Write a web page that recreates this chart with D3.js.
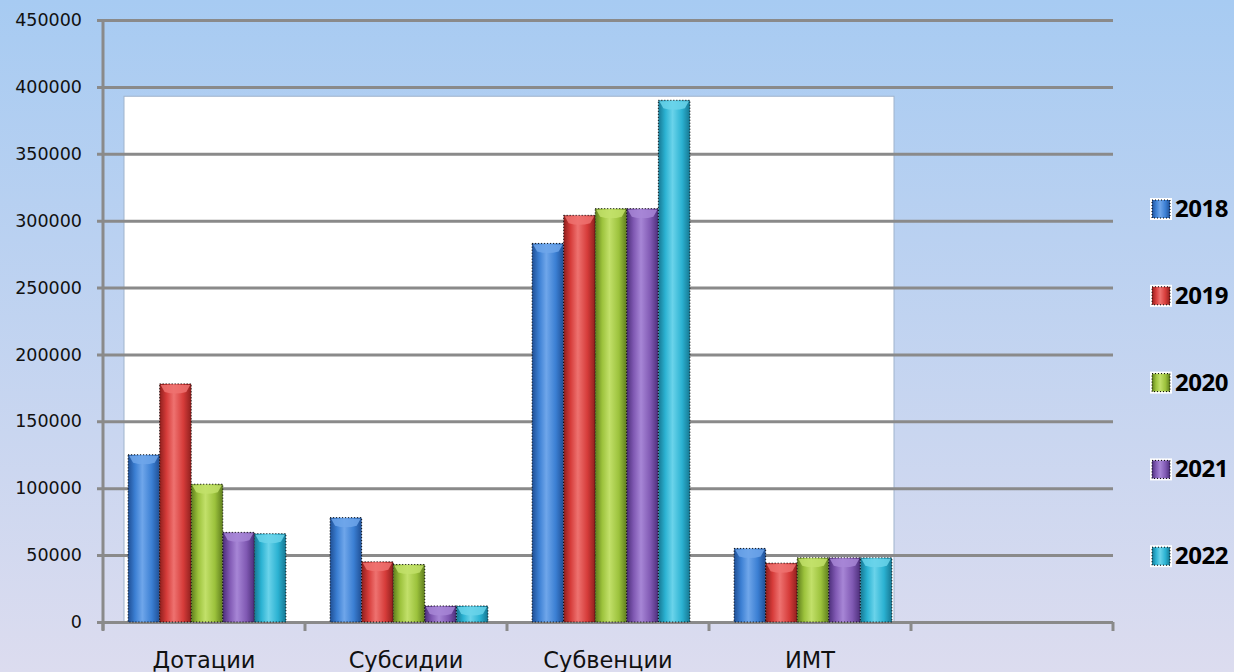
<!DOCTYPE html>
<html>
<head>
<meta charset="utf-8">
<script src="https://cdn.jsdelivr.net/npm/d3@7"></script>
<style>
  html, body { margin: 0; padding: 0; }
  body { width: 1234px; height: 672px; overflow: hidden; }
</style>
</head>
<body>
<div id="grafica"></div>
<script>
// datos
categorias = ['Дотации', 'Субсидии', 'Субвенции', 'ИМТ', '']
anios = ['2018', '2019', '2020', '2021', '2022']
v2018 = [125000, 78000, 283000, 55000]
v2019 = [178000, 45000, 304000, 44000]
v2020 = [103000, 43000, 309000, 48000]
v2021 = [67000, 12000, 309000, 48000]
v2022 = [66000, 12000, 390000, 48000]
yTicks = [0, 50000, 100000, 150000, 200000, 250000, 300000, 350000, 400000, 450000]
colores = ['#3b7fd3', '#d63c3a', '#9cc23c', '#8059b3', '#2bb2d2']
oscuros = ['#1f4f95', '#8f1f1d', '#5e7d1c', '#4c2e7a', '#167792']
claros = ['#6fa6ea', '#ee7270', '#c2e06a', '#a786d6', '#6ad3ea']

series = [v2018, v2019, v2020, v2021, v2022]

ancho_total = 1234
alto_total = 672

svg = d3.select('#grafica')
  .append('svg')
  .attr('width', ancho_total)
  .attr('height', alto_total)

defs = svg.append('defs')

fondo = defs.append('linearGradient')
  .attr('id', 'fondo')
  .attr('x1', 0).attr('y1', 0).attr('x2', 0).attr('y2', 1)
fondo.append('stop').attr('offset', '0%').attr('stop-color', '#a7cbf2')
fondo.append('stop').attr('offset', '100%').attr('stop-color', '#dcdcef')

anios.forEach((a, i) => {
  gr = defs.append('linearGradient')
    .attr('id', 'barra' + i)
    .attr('x1', 0).attr('y1', 0).attr('x2', 1).attr('y2', 0)
  gr.append('stop').attr('offset', '0%').attr('stop-color', oscuros[i])
  gr.append('stop').attr('offset', '22%').attr('stop-color', colores[i])
  gr.append('stop').attr('offset', '45%').attr('stop-color', claros[i])
  gr.append('stop').attr('offset', '75%').attr('stop-color', colores[i])
  gr.append('stop').attr('offset', '100%').attr('stop-color', oscuros[i])
})

svg.append('rect')
  .attr('width', ancho_total)
  .attr('height', alto_total)
  .attr('fill', 'url(#fondo)')

// escaladores
x = d3.scaleBand()
  .domain(categorias)
  .range([103, 1113])
  .paddingInner(0)
  .paddingOuter(0)

x1 = d3.scaleBand()
  .domain(anios)
  .range([0, x.bandwidth()])
  .paddingInner(0)
  .paddingOuter(0.7)

y = d3.scaleLinear()
  .domain([0, 450000])
  .range([622, 20])

// area blanca detras de las barras
svg.append('rect')
  .attr('x', 124)
  .attr('y', y(393000))
  .attr('width', 770)
  .attr('height', y(0) - y(393000))
  .attr('fill', '#ffffff')
  .attr('stroke', '#9fb3cc')
  .attr('stroke-width', 1)

// lineas de la cuadricula y eje Y
yAxisCall = d3.axisLeft(y)
  .tickValues(yTicks)
  .tickSize(-(1113 - 103))
  .tickPadding(21)
  .tickFormat(d3.format('d'))

yGroup = svg.append('g')
  .attr('transform', 'translate(103, 0)')
  .call(yAxisCall)

yGroup.select('.domain').remove()
yGroup.selectAll('.tick line')
  .attr('x1', -6)
  .attr('stroke', '#8a8a8a')
  .attr('stroke-width', 3)
yGroup.selectAll('.tick text')
  .attr('font-family', 'DejaVu Sans')
  .attr('font-size', '17.5px')
  .attr('fill', '#111')

svg.append('line')
  .attr('x1', 103).attr('x2', 103)
  .attr('y1', y(450000)).attr('y2', 630)
  .attr('stroke', '#8a8a8a')
  .attr('stroke-width', 3)

// eje X con marcas en los limites de cada categoria
limites = categorias.map((c) => x(c)).concat([x.range()[1]])
svg.selectAll('.marcaX')
  .data(limites)
  .enter()
  .append('line')
  .attr('x1', (d) => d).attr('x2', (d) => d)
  .attr('y1', y(0)).attr('y2', 631)
  .attr('stroke', '#8a8a8a')
  .attr('stroke-width', 3)

svg.selectAll('.etiquetaX')
  .data(categorias)
  .enter()
  .append('text')
  .attr('x', (d) => x(d) + x.bandwidth() / 2)
  .attr('y', 668)
  .attr('text-anchor', 'middle')
  .attr('font-family', 'DejaVu Sans')
  .attr('font-size', '22.5px')
  .attr('fill', '#111')
  .text((d) => d)

// barras
grupos = svg.selectAll('.grupo')
  .data(categorias.slice(0, 4))
  .enter()
  .append('g')
  .attr('transform', (d) => `translate(${x(d) + 3}, 0)`)

grupos.selectAll('rect.barra')
  .data((d, ci) => anios.map((a, i) => ({ anio: a, i: i, valor: series[i][ci] })))
  .enter()
  .append('rect')
  .attr('class', 'barra')
  .attr('x', (d) => x1(d.anio))
  .attr('y', (d) => y(d.valor))
  .attr('width', x1.bandwidth())
  .attr('height', (d) => y(0) - y(d.valor))
  .attr('fill', (d) => 'url(#barra' + d.i + ')')
  .attr('stroke', '#000')
  .attr('stroke-width', 1)
  .attr('stroke-dasharray', '1,2')

// tapa superior mas clara
grupos.selectAll('path.tapa')
  .data((d, ci) => anios.map((a, i) => ({ anio: a, i: i, valor: series[i][ci] })))
  .enter()
  .append('path')
  .attr('class', 'tapa')
  .attr('d', (d) => {
    x0 = x1(d.anio) + 1
    w = x1.bandwidth() - 2
    y0 = y(d.valor) + 1
    return `M${x0},${y0} L${x0 + w},${y0} L${x0 + w - 4},${y0 + 7} Q${x0 + w / 2},${y0 + 10} ${x0 + 4},${y0 + 7} Z`
  })
  .attr('fill', (d) => claros[d.i])
  .attr('opacity', 0.85)

// leyenda
leyenda = svg.selectAll('.leyenda')
  .data(anios)
  .enter()
  .append('g')
  .attr('transform', (d, i) => `translate(1150, ${198 + i * 86.8})`)

leyenda.append('rect')
  .attr('width', 22)
  .attr('height', 22)
  .attr('fill', '#ffffff')
leyenda.append('rect')
  .attr('x', 2).attr('y', 2)
  .attr('width', 18)
  .attr('height', 18)
  .attr('fill', (d, i) => 'url(#barra' + i + ')')
  .attr('stroke', '#000')
  .attr('stroke-width', 1)
  .attr('stroke-dasharray', '1,2')

leyenda.append('text')
  .attr('x', 25)
  .attr('y', 19)
  .attr('font-family', 'Open Sans')
  .attr('font-weight', 'bold')
  .attr('font-size', '24px')
  .attr('letter-spacing', '-0.5px')
  .attr('fill', '#000')
  .text((d) => d)
</script>
</body>
</html>
